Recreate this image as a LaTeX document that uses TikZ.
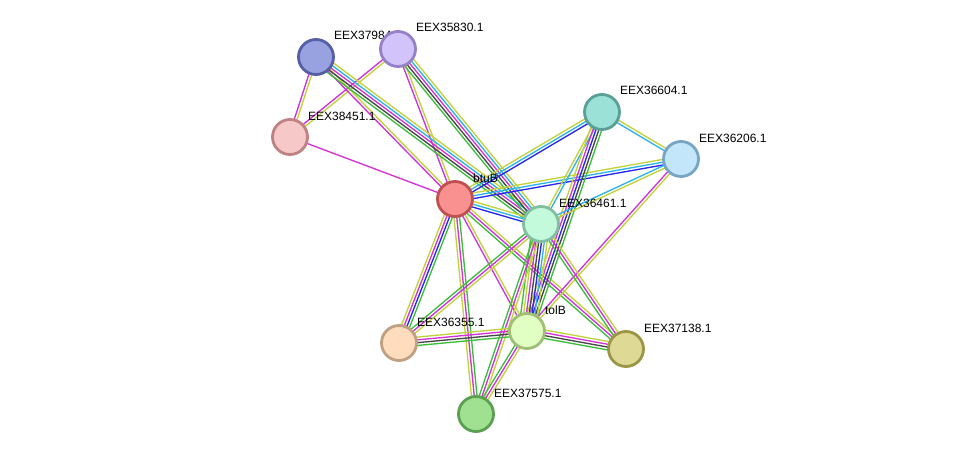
\documentclass[tikz,border=0pt]{standalone}
\usepackage{fontspec}
\setmainfont{Liberation Sans}
\usetikzlibrary{calc, backgrounds}

% evidence colours
\definecolor{evgreen}{RGB}{60,190,60}
\definecolor{evblue}{RGB}{40,40,235}
\definecolor{evcyan}{RGB}{45,180,230}
\definecolor{evmagenta}{RGB}{210,50,215}
\definecolor{evyellow}{RGB}{195,210,60}
\definecolor{evblack}{RGB}{70,70,70}

% one line per evidence channel, side by side
\newcommand\bundle[3]{%
  \foreach \col [count=\k] in {#3} {\xdef\nlines{\k}}%
  \foreach \col [count=\k] in {#3} {%
    \pgfmathsetmacro\off{(\k-(\nlines+1)/2)*2.8}%
    \draw[link, \col] ($(#1)!\off pt!90:(#2)$) -- ($(#2)!\off pt!-90:(#1)$);
  }}

\begin{document}
\begin{tikzpicture}[
    x=1pt, y=-1pt,
    prot/.style={circle, line width=2.8pt, minimum size=35pt, inner sep=0pt},
    lbl/.style={font=\fontsize{12}{14}\selectfont, anchor=base west, inner sep=0pt, label distance=-1pt, yshift=17pt},
    link/.style={line width=1.35pt}
]
\useasboundingbox (0,0) rectangle (975,460);

% Proteins
\node[prot, fill={rgb,255:red,152;green,162;blue,224}, draw={rgb,255:red,85;green,95;blue,165}, label={[lbl]0:EEX37984.1}] (e37984) at (316,57) {};
\node[prot, fill={rgb,255:red,210;green,196;blue,250}, draw={rgb,255:red,150;green,128;blue,200}, label={[lbl]0:EEX35830.1}] (e35830) at (398,49) {};
\node[prot, fill={rgb,255:red,246;green,200;blue,200}, draw={rgb,255:red,190;green,130;blue,130}, label={[lbl]0:EEX38451.1}] (e38451) at (290,137) {};
\node[prot, fill={rgb,255:red,250;green,145;blue,145}, draw={rgb,255:red,190;green,80;blue,80}, label={[lbl]0:btuB}] (btub) at (455,199) {};
\node[prot, fill={rgb,255:red,155;green,225;blue,215}, draw={rgb,255:red,90;green,160;blue,150}, label={[lbl]0:EEX36604.1}] (e36604) at (602,112) {};
\node[prot, fill={rgb,255:red,195;green,230;blue,250}, draw={rgb,255:red,120;green,165;blue,195}, label={[lbl]0:EEX36206.1}] (e36206) at (681,159) {};
\node[prot, fill={rgb,255:red,195;green,250;blue,220}, draw={rgb,255:red,130;green,190;blue,160}, label={[lbl]0:EEX36461.1}] (e36461) at (541,224) {};
\node[prot, fill={rgb,255:red,225;green,255;blue,195}, draw={rgb,255:red,160;green,190;blue,120}, label={[lbl]0:tolB}] (tolb) at (527,331) {};
\node[prot, fill={rgb,255:red,255;green,220;blue,190}, draw={rgb,255:red,190;green,160;blue,130}, label={[lbl]0:EEX36355.1}] (e36355) at (399,343) {};
\node[prot, fill={rgb,255:red,222;green,218;blue,150}, draw={rgb,255:red,155;green,150;blue,70}, label={[lbl]0:EEX37138.1}] (e37138) at (626,349) {};
\node[prot, fill={rgb,255:red,160;green,225;blue,145}, draw={rgb,255:red,90;green,160;blue,80}, label={[lbl]0:EEX37575.1}] (e37575) at (476,414) {};

% Interactions
\begin{pgfonlayer}{background}
\bundle{e37984}{e38451}{evmagenta, evyellow}
\bundle{e35830}{e38451}{evmagenta, evyellow}
\bundle{e38451}{btub}{evmagenta}
\bundle{e37984}{btub}{evmagenta, evyellow}
\bundle{e35830}{btub}{evmagenta, evyellow}
\bundle{e37984}{e36461}{evgreen, evblack, evmagenta, evcyan, evyellow}
\bundle{e35830}{e36461}{evgreen, evblack, evmagenta, evcyan, evyellow}
\bundle{btub}{e36604}{evblue, evcyan, evyellow}
\bundle{btub}{e36206}{evblue, evcyan, evyellow}
\bundle{btub}{e36461}{evblue, evcyan, evyellow}
\bundle{btub}{e36355}{evyellow, evmagenta, evblue, evgreen}
\bundle{btub}{e37575}{evyellow, evmagenta, evgreen}
\bundle{btub}{tolb}{evmagenta, evyellow}
\bundle{btub}{e37138}{evgreen, evmagenta, evyellow}
\bundle{e36604}{e36206}{evcyan, evyellow}
\bundle{e36604}{e36461}{evyellow, evcyan}
\bundle{e36604}{tolb}{evyellow, evmagenta, evblue, evblack, evgreen}
\bundle{e36206}{e36461}{evcyan, evyellow}
\bundle{e36206}{tolb}{evmagenta, evyellow}
\bundle{e36461}{tolb}{evgreen, evyellow, evmagenta, evblack, evblue, evcyan, evyellow}
\bundle{e36461}{e36355}{evgreen, evmagenta, evyellow}
\bundle{e36461}{e37138}{evgreen, evmagenta, evyellow}
\bundle{e36461}{e37575}{evgreen, evmagenta, evyellow}
\bundle{tolb}{e36355}{evyellow, evmagenta, evblack, evgreen}
\bundle{tolb}{e37138}{evgreen, evblack, evmagenta, evyellow}
\bundle{tolb}{e37575}{evgreen, evmagenta, evyellow}
\end{pgfonlayer}

\end{tikzpicture}
\end{document}
